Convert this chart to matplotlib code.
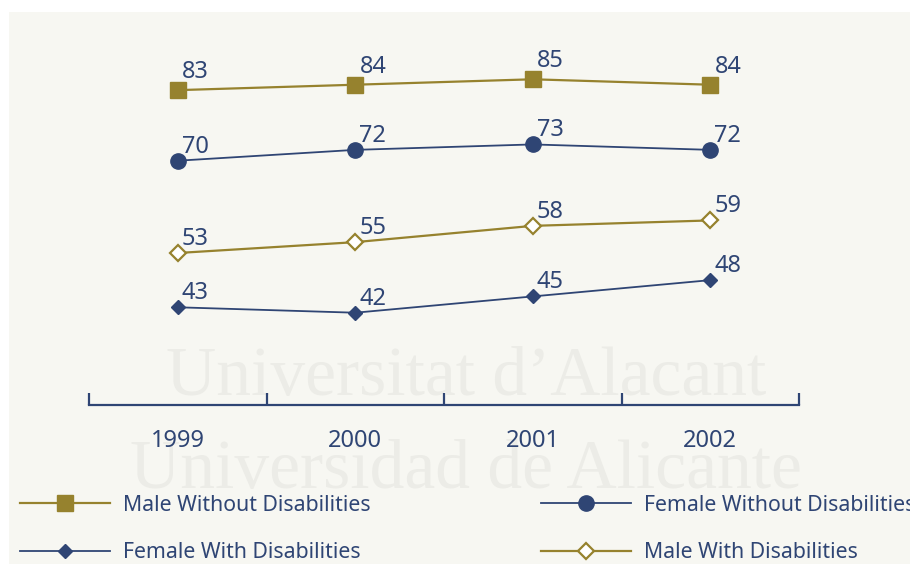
import matplotlib.pyplot as plt
from matplotlib.patches import Rectangle

# Data
years = [1999, 2000, 2001, 2002]
male_without = [83, 84, 85, 84]
female_without = [70, 72, 73, 72]
male_with = [53, 55, 58, 59]
female_with = [43, 42, 45, 48]

GOLD = '#96822e'
NAVY = '#2f4574'
BG = '#f7f7f2'

plt.rcParams['font.family'] = ['Noto Sans', 'DejaVu Sans']

fig = plt.figure(figsize=(9.1, 5.64), dpi=100, facecolor='white')
fig.patches.append(Rectangle((9 / 910, 0), 1, 552 / 564, transform=fig.transFigure,
                             facecolor=BG, edgecolor='none', zorder=-10))

# watermark text
for txt, ypx in [("Universitat d\u2019Alacant", 395), ("Universidad de Alicante", 488)]:
    fig.text(466 / 910, 1 - ypx / 564, txt, ha='center', va='baseline',
             family='Liberation Serif', fontsize=50, color='#ecece7', zorder=-5)

ax = fig.add_axes([89 / 910, 1 - 405 / 564, 710 / 910, 380 / 564])
ax.set_facecolor('none')

series = [
    (male_without, 'Male Without Disabilities', dict(color=GOLD, lw=1.6, marker='s', ms=11.5,
                                                     mfc=GOLD, mec=GOLD), 8.6),
    (female_without, 'Female Without Disabilities', dict(color=NAVY, lw=1.3, marker='o', ms=11,
                                                         mfc=NAVY, mec=NAVY), 5.8),
    (male_with, 'Male With Disabilities', dict(color=GOLD, lw=1.6, marker='D', ms=8.2,
                                               mfc='white', mec=GOLD, mew=1.6), 5.8),
    (female_with, 'Female With Disabilities', dict(color=NAVY, lw=1.3, marker='D', ms=7,
                                                   mfc=NAVY, mec=NAVY), 5.8),
]

handles = {}
for vals, name, style, dy in series:
    line, = ax.plot(years, vals, label=name, clip_on=False, **style)
    handles[name] = line
    for x, v in zip(years, vals):
        ax.annotate(str(v), (x, v), xytext=(3, dy), textcoords='offset points',
                    ha='left', va='baseline', fontsize=17, color=NAVY)

ax.set_xlim(1998.5, 2002.5)
ax.set_ylim(25, 95)

for s in ['top', 'left', 'right']:
    ax.spines[s].set_visible(False)
ax.spines['bottom'].set_color(NAVY)
ax.spines['bottom'].set_linewidth(1.6)
ax.set_yticks([])

ax.set_xticks(years)
ax.set_xticklabels([str(y) for y in years], fontsize=17, color=NAVY)
ax.tick_params(axis='x', which='major', length=0, pad=17)
ax.set_xticks([1998.5, 1999.5, 2000.5, 2001.5, 2002.5], minor=True)
ax.tick_params(axis='x', which='minor', direction='in', length=8.6, width=1.6, color=NAVY)

leg_kw = dict(frameon=False, fontsize=15.3, handlelength=4.24, handletextpad=0.6,
              labelspacing=1.25, borderpad=0, borderaxespad=0, labelcolor=NAVY,
              loc='center left')
left_names = ['Male Without Disabilities', 'Female With Disabilities']
right_names = ['Female Without Disabilities', 'Male With Disabilities']
fig.legend([handles[n] for n in left_names], left_names,
           bbox_to_anchor=(20 / 910, 1 - 529 / 564), **leg_kw)
fig.legend([handles[n] for n in right_names], right_names,
           bbox_to_anchor=(541 / 910, 1 - 529 / 564), **leg_kw)

fig.savefig('out.png', dpi=100, facecolor='white')
